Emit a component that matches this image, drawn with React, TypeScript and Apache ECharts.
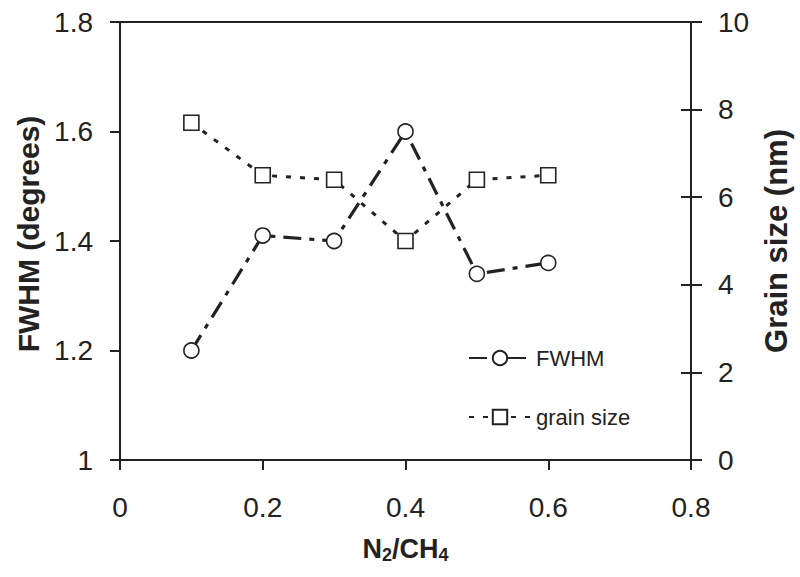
import React, { useEffect, useRef } from "react";
import * as echarts from "echarts";

const ratios = [0.1, 0.2, 0.3, 0.4, 0.5, 0.6];
const fwhm = [1.2, 1.41, 1.4, 1.6, 1.34, 1.36];
const grainSize = [7.7, 6.5, 6.4, 5.0, 6.4, 6.5];

const leftTitle = "FWHM (degrees)";
const rightTitle = "Grain size (nm)";
const seriesNames = ["FWHM", "grain size"];

const INK = "#222222";
const FONT = "'Liberation Sans', Arial, Helvetica, sans-serif";

export default function App() {
  const ref = useRef<HTMLDivElement>(null);

  useEffect(() => {
    if (!ref.current) return;
    const chart = echarts.init(ref.current, undefined, { renderer: "svg" });

    const axisLine = { show: true, lineStyle: { color: INK, width: 2 } };
    const tickLabel = { color: INK, fontSize: 28, fontFamily: FONT };

    chart.setOption({
      animation: false,
      backgroundColor: "#ffffff",
      grid: {
        left: 120,
        right: 109,
        top: 22,
        bottom: 117,
        show: true,
        borderColor: INK,
        borderWidth: 2,
        backgroundColor: "transparent",
      },
      legend: {
        left: 468,
        top: 347,
        padding: 0,
        orient: "vertical",
        itemWidth: 62,
        itemHeight: 18,
        itemGap: 37,
        textStyle: { color: INK, fontSize: 22, fontFamily: FONT },
        data: seriesNames,
      },
      xAxis: {
        type: "value",
        min: 0,
        max: 0.8,
        interval: 0.2,
        axisLine,
        axisTick: { show: true, inside: false, length: 10, lineStyle: { color: INK, width: 2 } },
        axisLabel: { ...tickLabel, margin: 33 },
        splitLine: { show: false },
        name: "N{sub|2}/CH{sub|4}",
        nameLocation: "middle",
        nameGap: 74,
        nameTextStyle: {
          color: INK,
          fontSize: 27,
          fontWeight: "bold",
          fontFamily: FONT,
          rich: {
            sub: {
              fontSize: 18,
              fontWeight: "bold",
              fontFamily: FONT,
              color: INK,
              padding: [12, 0, 0, 0],
            },
          },
        },
      },
      yAxis: [
        {
          type: "value",
          position: "left",
          min: 1,
          max: 1.8,
          interval: 0.2,
          axisLine,
          axisTick: { show: true, inside: false, length: 10, lineStyle: { color: INK, width: 2 } },
          axisLabel: { ...tickLabel, margin: 27 },
          splitLine: { show: false },
          name: leftTitle,
          nameLocation: "middle",
          nameRotate: 90,
          nameGap: 76,
          nameTextStyle: { color: INK, fontSize: 30, fontWeight: "bold", fontFamily: FONT, padding: [0, 0, 0, 14] },
        },
        {
          type: "value",
          position: "right",
          min: 0,
          max: 10,
          interval: 2,
          axisLine,
          axisTick: { show: true, inside: false, length: 11, lineStyle: { color: INK, width: 2 } },
          axisLabel: { ...tickLabel, margin: 27 },
          splitLine: { show: false },
          name: rightTitle,
          nameLocation: "middle",
          nameRotate: 90,
          nameGap: 70,
          nameTextStyle: { color: INK, fontSize: 31, fontWeight: "bold", fontFamily: FONT },
        },
        {
          type: "value",
          position: "right",
          min: 0,
          max: 10,
          interval: 2,
          axisLine: { show: false },
          axisTick: { show: true, inside: true, length: 10, lineStyle: { color: INK, width: 2 } },
          axisLabel: { show: false },
          splitLine: { show: false },
        },
      ],
      series: [
        {
          name: seriesNames[0],
          type: "line",
          yAxisIndex: 0,
          data: ratios.map((x, i) => [x, fwhm[i]]),
          symbol: "circle",
          symbolSize: 15,
          itemStyle: { color: "#ffffff", borderColor: INK, borderWidth: 1.6 },
          lineStyle: { color: INK, width: 3.2, type: [18, 8, 5, 8] },
          z: 3,
        },
        {
          name: seriesNames[1],
          type: "line",
          yAxisIndex: 1,
          data: ratios.map((x, i) => [x, grainSize[i]]),
          symbol: "rect",
          symbolSize: 15,
          itemStyle: { color: "#ffffff", borderColor: INK, borderWidth: 1.6 },
          lineStyle: { color: INK, width: 3, type: [5, 9] },
          z: 2,
        },
      ],
    });

    return () => chart.dispose();
  }, []);

  return (
    <div
      ref={ref}
      style={{ position: "fixed", left: 0, top: 0, width: 800, height: 577, background: "#fff" }}
    />
  );
}
